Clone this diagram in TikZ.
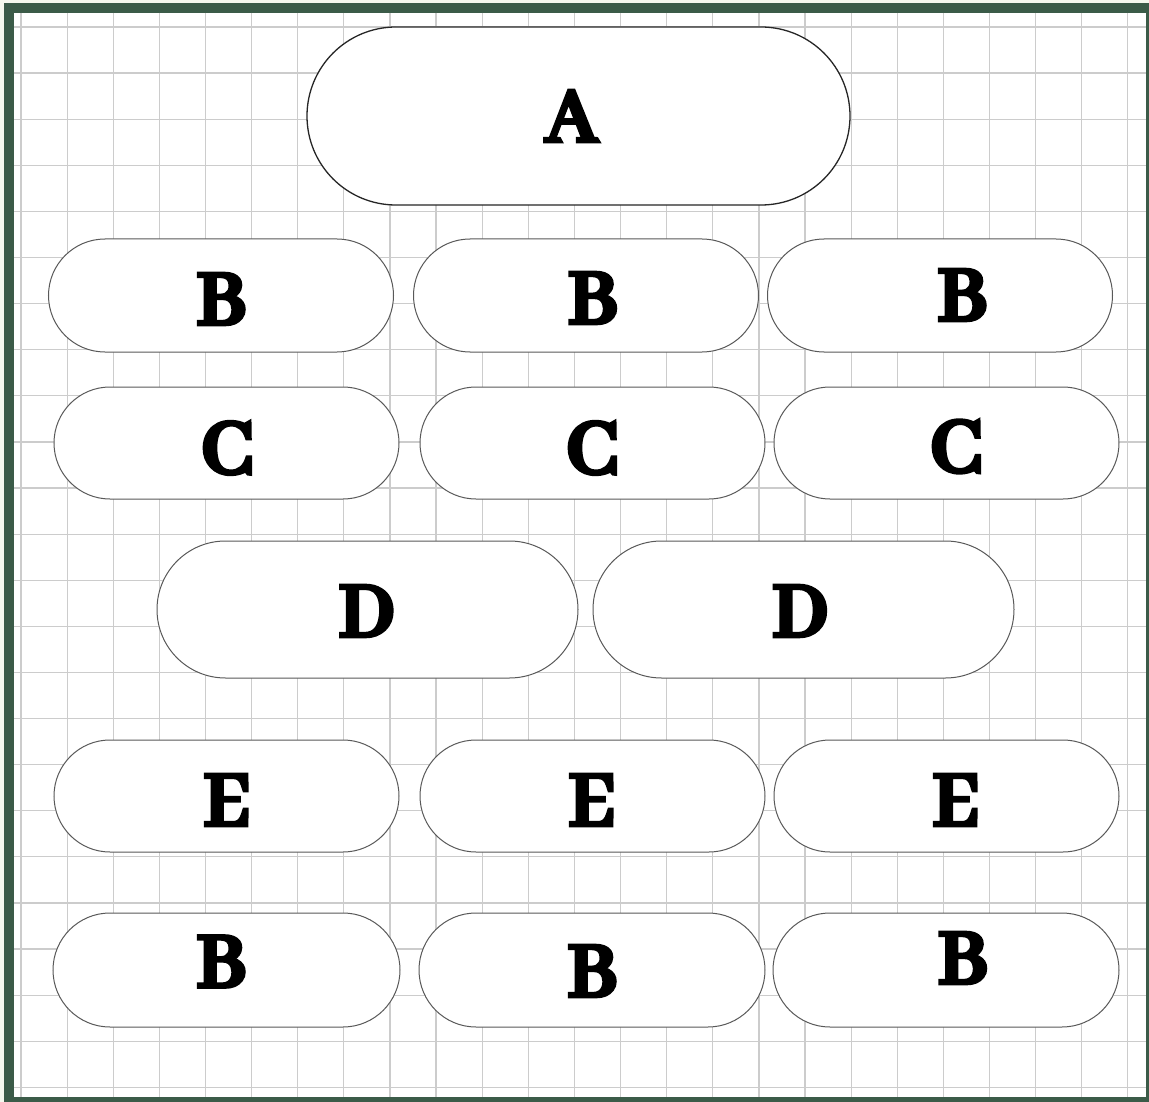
\documentclass[tikz,border=0pt]{standalone}
\usepackage{fontspec}
\newfontfamily\pillfont[FakeBold=5]{Abhaya Libre}
\usetikzlibrary{positioning, shapes.misc}

\definecolor{framegreen}{HTML}{3B5B48}
\definecolor{paper}{HTML}{F5F8EE}

\begin{document}
\begin{tikzpicture}[x=1pt, y=-1pt,
  pill/.style={rounded rectangle, draw=black!65, line width=1pt, fill=white, minimum width=345pt, minimum height=112pt, inner sep=0pt},
  bigpill/.style={pill, draw=black!85, line width=1.3pt},
  letter/.style={font=\pillfont\bfseries\fontsize{86}{86}\selectfont, inner sep=0pt},
  gridline/.style={draw=black!20, line width=1.2pt}
]
\useasboundingbox (0,0) rectangle (1149,1102);

% frame and squared paper
\fill[paper] (0,0) rectangle (1149,1102);
\fill[framegreen] (4,3) rectangle (1149,1102);
\fill[white] (14,13) rectangle (1146,1097);
\foreach \i in {0,...,24}
  \draw[gridline] ({21+46.12*\i},13) -- ({21+46.12*\i},1097);
\foreach \j in {0,...,23}
  \draw[gridline] (14,{27+46.1*\j}) -- (1146,{27+46.1*\j});

% top
\node[bigpill, minimum width=543pt, minimum height=178pt] (a) at (578.5,116) {};

% first row of B
\node[pill, minimum height=113pt] (b1) at (221,295.5) {};
\node[pill, minimum height=113pt, right=19pt of b1] (b2) {};
\node[pill, minimum height=113pt, right=8pt of b2] (b3) {};

% row of C
\node[pill] (c1) at (226.5,443) {};
\node[pill, right=20pt of c1] (c2) {};
\node[pill, right=8pt of c2] (c3) {};

% row of D
\node[pill, minimum width=421pt, minimum height=137pt] (d1) at (367.5,609.5) {};
\node[pill, minimum width=421pt, minimum height=137pt, right=14pt of d1] (d2) {};

% row of E
\node[pill] (e1) at (226.5,796) {};
\node[pill, right=20pt of e1] (e2) {};
\node[pill, right=8pt of e2] (e3) {};

% second row of B
\node[pill, minimum width=347pt, minimum height=114pt] (f1) at (226.5,970) {};
\node[pill, minimum width=346pt, minimum height=114pt, right=18pt of f1] (f2) {};
\node[pill, minimum width=346pt, minimum height=114pt, right=7pt of f2] (f3) {};

% letters
\node[letter] (la) at (571.5,116) {A};
\node[letter] (lb1) at (221.5,299) {B};
\node[letter] (lb2) at (593,298) {B};
\node[letter] (lb3) at (962.5,295) {B};
\node[letter] (lc1) at (227,448) {C};
\node[letter] (lc2) at (592,448) {C};
\node[letter] (lc3) at (956,446.5) {C};
\node[letter] (ld1) at (367,611) {D};
\node[letter] (ld2) at (800.5,611) {D};
\node[letter] (le1) at (227,800) {E};
\node[letter] (le2) at (592,800) {E};
\node[letter] (le3) at (956,800) {E};
\node[letter] (lf1) at (221.5,961.5) {B};
\node[letter] (lf2) at (592.5,971) {B};
\node[letter] (lf3) at (963,958) {B};
\end{tikzpicture}
\end{document}
